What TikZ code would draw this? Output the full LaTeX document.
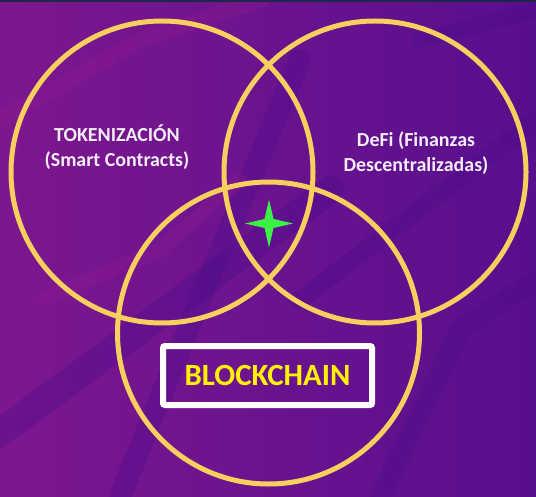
\documentclass[tikz,border=0pt]{standalone}
\usepackage{fontspec}
\setmainfont{Carlito}
\definecolor{bgpurple}{HTML}{6A1490}
\definecolor{bgindigo}{HTML}{4A0C8C}
\definecolor{bgmagenta}{HTML}{8E1A8E}
\definecolor{ringgold}{HTML}{F7CF5E}
\definecolor{labelwhite}{HTML}{F4ECF6}
\definecolor{chainyellow}{HTML}{FFF100}
\definecolor{stargreen}{HTML}{3DF046}
\definecolor{topstrip}{HTML}{1F2748}
\tikzset{
  ring/.style={draw=ringgold, line width=5bp},
  lbl/.style={text=labelwhite, font=\fontsize{20}{24}\selectfont\bfseries, anchor=base, inner sep=0pt},
  chainbox/.style={draw=white, line width=6bp, rounded corners=2bp, minimum width=209bp, minimum height=59bp, text=chainyellow, font=\fontsize{31}{36}\selectfont\bfseries},
  band/.style={line cap=round, opacity=0.35},
}
\begin{document}
\begin{tikzpicture}[x=1bp,y=-1bp]
\useasboundingbox (0,0) rectangle (536,497);
% background
\fill[left color=bgmagenta, right color=bgindigo] (0,0) rectangle (536,497);
\fill[bgpurple, opacity=0.45] (0,0) rectangle (536,497);
% soft background texture
\draw[band, bgindigo, line width=28bp] (-10,440) -- (330,190);
\draw[band, bgindigo, line width=22bp] (120,497) -- (200,300) -- (300,60);
\draw[band, bgindigo, line width=20bp] (380,497) -- (460,330) -- (536,280);
\draw[band, bgindigo, line width=18bp] (300,300) -- (536,120);
\draw[band, bgmagenta, line width=16bp] (0,120) -- (140,40) -- (260,0);
\draw[band, bgmagenta, line width=14bp] (40,300) -- (160,250) -- (240,180);
\draw[band, bgindigo, line width=16bp] (420,40) -- (536,10);
\fill[topstrip] (0,0) rectangle (536,2);
% circles
\node[circle, minimum size=302bp, inner sep=0pt] (tokc) at (162,172) {};
\node[circle, minimum size=302bp, inner sep=0pt] (defc) at (375,172) {};
\node[circle, minimum size=302bp, inner sep=0pt] (bcc) at (268.5,333) {};
\draw[ring] (tokc.center) circle[radius=151];
\draw[ring] (defc.center) circle[radius=151];
\draw[ring] (bcc.center) circle[radius=151];
% labels
\node[lbl] (tok1) at (117,142) {TOKENIZACIÓN};
\node[lbl] (tok2) at (117,167) {(Smart Contracts)};
\node[lbl] (defi1) at (416,147) {DeFi (Finanzas};
\node[lbl] (defi2) at (416,172) {Descentralizadas)};
\node[chainbox] (chain) at (267.5,375.5) {BLOCKCHAIN};
% star
\coordinate (star) at (269,223.5);
\fill[stargreen] ([shift={(0,-24)}]star) -- ([shift={(4.5,-4.5)}]star) -- ([shift={(24,0)}]star) -- ([shift={(4.5,4.5)}]star) -- ([shift={(0,24)}]star) -- ([shift={(-4.5,4.5)}]star) -- ([shift={(-24,0)}]star) -- ([shift={(-4.5,-4.5)}]star) -- cycle;
\end{tikzpicture}
\end{document}
